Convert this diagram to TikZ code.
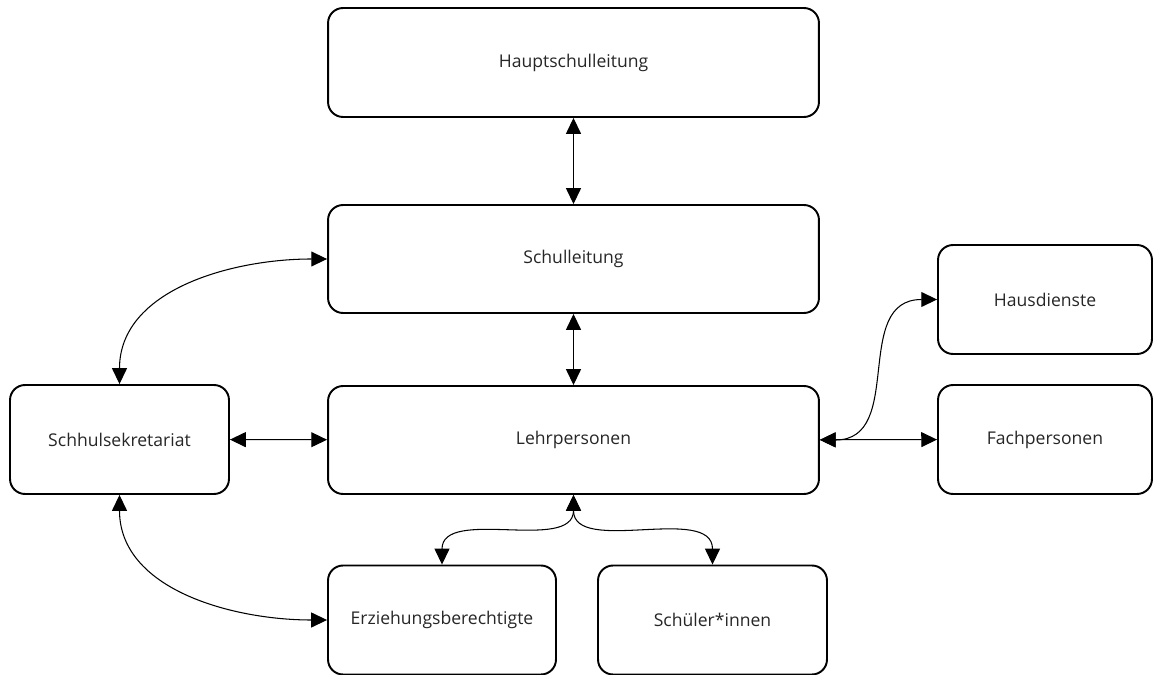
\documentclass[tikz,border=0pt]{standalone}
\usepackage{fontspec}
\setmainfont{Open Sans}
\usetikzlibrary{arrows.meta}

\tikzset{
    box/.style={draw, line width=1.1pt, rounded corners=0.3cm, align=center,
        text=black!85, font=\fontsize{10}{12}\selectfont},
    link/.style={line width=0.6pt, {Triangle[length=9pt,width=8.5pt]}-{Triangle[length=9pt,width=8.5pt]}}
}

\begin{document}
\begin{tikzpicture}[x=0.02cm, y=-0.02cm]
    \useasboundingbox (0,0) rectangle (1163,675);

    \node[box, minimum width=9.82cm, minimum height=2.18cm] (haupt) at (573.5,62.5) {Hauptschulleitung};
    \node[box, minimum width=9.82cm, minimum height=2.16cm] (schul) at (573.5,259) {Schulleitung};
    \node[box, minimum width=9.82cm, minimum height=2.16cm] (lehr) at (573.5,440) {Lehrpersonen};
    \node[box, minimum width=4.38cm, minimum height=2.18cm] (sek) at (119.5,439.5) {Schhulsekretariat};
    \node[box, minimum width=4.28cm, minimum height=2.18cm] (haus) at (1045,299.5) {Hausdienste};
    \node[box, minimum width=4.28cm, minimum height=2.18cm] (fach) at (1045,439.5) {Fachpersonen};
    \node[box, minimum width=4.56cm, minimum height=2.18cm] (erz) at (442,620) {Erziehungsberechtigte};
    \node[box, minimum width=4.58cm, minimum height=2.18cm] (kids) at (712.5,620) {Schüler*innen};

    \draw[link] (haupt) -- (schul);
    \draw[link] (schul) -- (lehr);
    \draw[link] (sek) -- (lehr);
    \draw[link] (lehr) -- (fach);

    \draw[link] (sek.north) to[out=90, in=180] (schul.west);
    \draw[link] (sek.south) to[out=-90, in=180] (erz.west);
    \draw[link] (lehr.east) to[out=0, in=180, looseness=1.2] (haus.west);
    \draw[link] (lehr.south) to[out=-90, in=90] (erz.north);
    \draw[link] (lehr.south) to[out=-90, in=90] (kids.north);
\end{tikzpicture}
\end{document}
